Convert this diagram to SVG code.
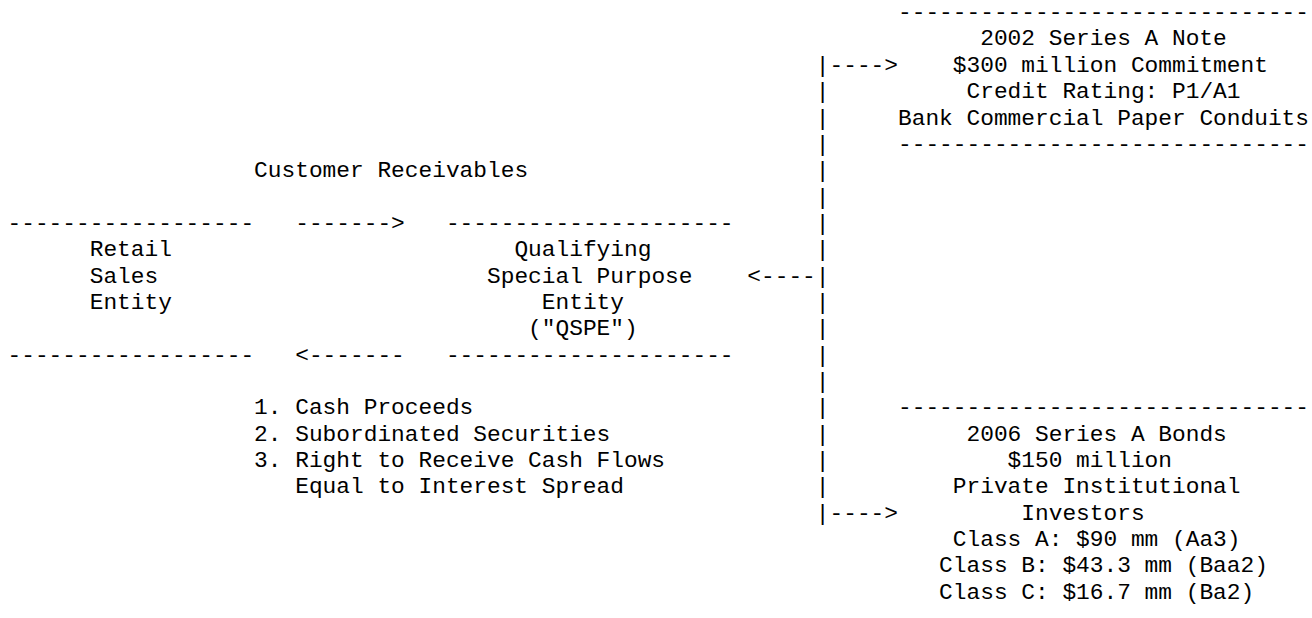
<svg xmlns="http://www.w3.org/2000/svg" width="1312" height="618" viewBox="0 0 1312 618">
<style>
text{font-family:"Liberation Mono","DejaVu Sans Mono",monospace;font-size:22.83px;fill:#000;white-space:pre}
</style>
<rect width="1312" height="618" fill="#fff"/>
<g id="retail-sales-entity">
<text x="7.5" y="229.9">------------------</text>
<text x="89.7" y="256.25">Retail</text>
<text x="89.7" y="282.6">Sales</text>
<text x="89.7" y="308.95">Entity</text>
<text x="7.5" y="361.65">------------------</text>
</g>
<g id="qspe">
<text x="445.9" y="229.9">---------------------</text>
<text x="514.4" y="256.25">Qualifying</text>
<text x="487" y="282.6">Special Purpose</text>
<text x="541.8" y="308.95">Entity</text>
<text x="528.1" y="335.3">("QSPE")</text>
<text x="445.9" y="361.65">---------------------</text>
</g>
<g id="series-2002-note">
<text x="898" y="19.1">------------------------------</text>
<text x="980.2" y="45.45">2002 Series A Note</text>
<text x="952.8" y="71.8">$300 million Commitment</text>
<text x="966.5" y="98.15">Credit Rating: P1/A1</text>
<text x="898" y="124.5">Bank Commercial Paper Conduits</text>
<text x="898" y="150.85">------------------------------</text>
</g>
<g id="series-2006-bonds">
<text x="898" y="414.35">------------------------------</text>
<text x="966.5" y="440.7">2006 Series A Bonds</text>
<text x="1007.6" y="467.05">$150 million</text>
<text x="952.8" y="493.4">Private Institutional</text>
<text x="1021.3" y="519.75">Investors</text>
<text x="952.8" y="546.1">Class A: $90 mm (Aa3)</text>
<text x="939.1" y="572.45">Class B: $43.3 mm (Baa2)</text>
<text x="939.1" y="598.8">Class C: $16.7 mm (Ba2)</text>
</g>
<g id="connectors">
<text x="254.1" y="177.2">Customer Receivables</text>
<text x="295.2" y="229.9">-------&gt;</text>
<text x="295.2" y="361.65">&lt;-------</text>
<text x="254.1" y="414.35">1. Cash Proceeds</text>
<text x="254.1" y="440.7">2. Subordinated Securities</text>
<text x="254.1" y="467.05">3. Right to Receive Cash Flows</text>
<text x="295.2" y="493.4">Equal to Interest Spread</text>
<text x="815.8" y="71.8">|----&gt;</text>
<text x="815.8" y="98.15">|</text>
<text x="815.8" y="124.5">|</text>
<text x="815.8" y="150.85">|</text>
<text x="815.8" y="177.2">|</text>
<text x="815.8" y="203.55">|</text>
<text x="815.8" y="229.9">|</text>
<text x="815.8" y="256.25">|</text>
<text x="747.3" y="282.6">&lt;----|</text>
<text x="815.8" y="308.95">|</text>
<text x="815.8" y="335.3">|</text>
<text x="815.8" y="361.65">|</text>
<text x="815.8" y="388">|</text>
<text x="815.8" y="414.35">|</text>
<text x="815.8" y="440.7">|</text>
<text x="815.8" y="467.05">|</text>
<text x="815.8" y="493.4">|</text>
<text x="815.8" y="519.75">|----&gt;</text>
</g>
</svg>
